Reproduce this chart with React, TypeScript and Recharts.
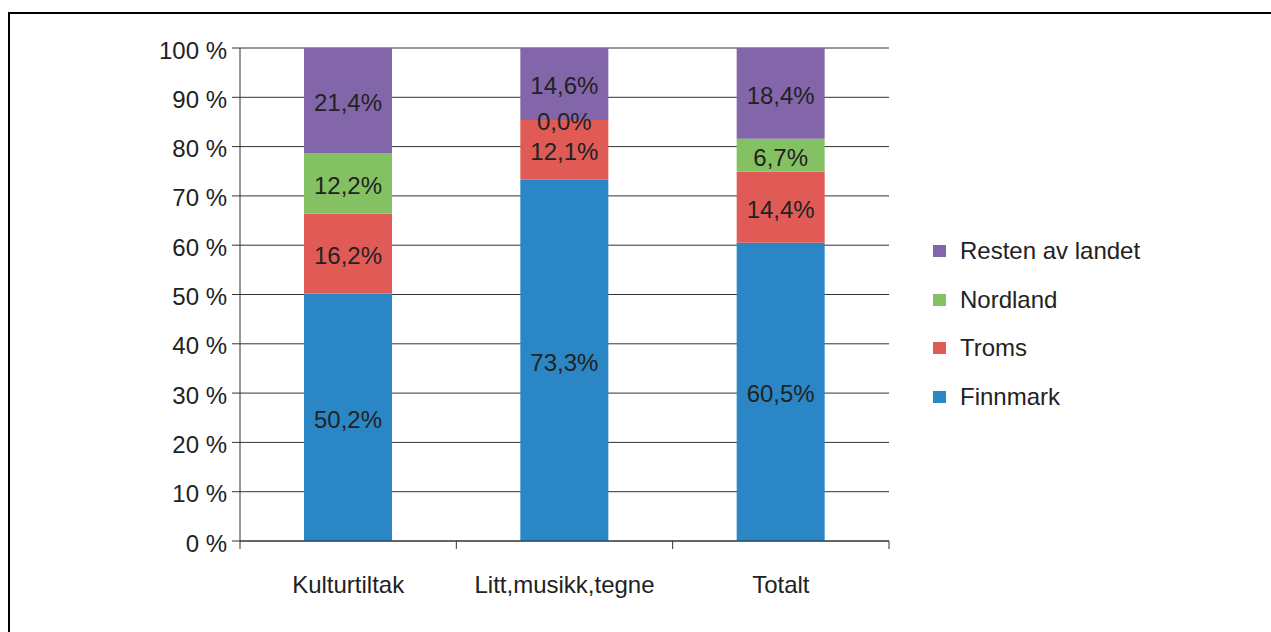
import React from 'react';
import { BarChart, Bar, XAxis, YAxis, CartesianGrid, LabelList, Legend } from 'recharts';

const categories = ['Kulturtiltak', 'Litt,musikk,tegne', 'Totalt'];
const finnmark = [50.2, 73.3, 60.5];
const troms = [16.2, 12.1, 14.4];
const nordland = [12.2, 0.0, 6.7];
const resten = [21.4, 14.6, 18.4];
const yTicks = [0, 10, 20, 30, 40, 50, 60, 70, 80, 90, 100];

const series = [
  { key: 'finnmark', name: 'Finnmark', color: '#2A86C4' },
  { key: 'troms', name: 'Troms', color: '#E05B56' },
  { key: 'nordland', name: 'Nordland', color: '#84C162' },
  { key: 'resten', name: 'Resten av landet', color: '#8266A9' },
];

const data = categories.map((c, i) => ({
  category: c,
  finnmark: finnmark[i],
  troms: troms[i],
  nordland: nordland[i],
  resten: resten[i],
}));

const FONT = '"Liberation Sans", Arial, Helvetica, sans-serif';
const TEXT = '#222222';
const AXIS = '#333333';
const TICK_MARGIN = 35;

const fmt = (v: any) => Number(v).toFixed(1).replace('.', ',') + '%';

const CenterLabel = (props: any) => {
  const { x, y, width, height, value } = props;
  if (value === undefined || value === null) return null;
  const cx = Number(x) + Number(width) / 2;
  const cy = Number(y) + Number(height) / 2;
  return (
    <text x={cx} y={cy} dy={2} textAnchor="middle" dominantBaseline="central" fill={TEXT} fontSize={24} fontFamily={FONT}>
      {fmt(value)}
    </text>
  );
};

// Label for a zero-height segment stacked on top of this bar (drawn at the bar's top edge)
const ZeroAboveLabel = (props: any) => {
  const { x, y, width, value } = props;
  if (value !== 0) return null;
  const cx = Number(x) + Number(width) / 2;
  return (
    <text x={cx} y={Number(y)} dy={2} textAnchor="middle" dominantBaseline="central" fill={TEXT} fontSize={24} fontFamily={FONT}>
      {fmt(value)}
    </text>
  );
};

const CategoryTick = (props: any) => {
  const { x, y, payload, index, visibleTicksCount } = props;
  const half = payload && payload.offset ? payload.offset : 0;
  const axisY = Number(y) - TICK_MARGIN;
  const last = index === (visibleTicksCount ?? categories.length) - 1;
  return (
    <g>
      <line x1={x - half} x2={x - half} y1={axisY} y2={axisY + 8} stroke={AXIS} />
      {last && <line x1={x + half} x2={x + half} y1={axisY} y2={axisY + 8} stroke={AXIS} />}
      <text x={x} y={y} dy="0.71em" textAnchor="middle" fill={TEXT} fontSize={24} fontFamily={FONT}>
        {payload.value}
      </text>
    </g>
  );
};

const YTick = (props: any) => {
  const { x, y, payload } = props;
  return (
    <text x={x} y={y} dy={2} textAnchor="end" dominantBaseline="central" fill={TEXT} fontSize={24} fontFamily={FONT}>
      {`${payload.value} %`}
    </text>
  );
};

const LegendContent = () => (
  <div style={{ fontFamily: FONT, fontSize: 24, color: TEXT }}>
    {[...series].reverse().map((s) => (
      <div key={s.key} style={{ display: 'flex', alignItems: 'center', height: 24, marginBottom: 24.5 }}>
        <div style={{ width: 13, height: 12, background: s.color, marginRight: 14 }} />
        <span style={{ whiteSpace: 'pre' }}>{s.name}</span>
      </div>
    ))}
  </div>
);

export default function App() {
  return (
    <div style={{ position: 'fixed', left: 0, top: 0, width: 1271, height: 632, overflow: 'hidden', background: '#fff' }}>
      <div
        style={{
          position: 'absolute',
          left: 8,
          top: 12,
          width: 1400,
          height: 800,
          borderTop: '2px solid #000',
          borderLeft: '2px solid #000',
        }}
      />
      <div style={{ position: 'absolute', left: 0, top: 0 }}>
        <BarChart
          width={1271}
          height={632}
          data={data}
          margin={{ top: 48, right: 382, bottom: 0, left: 0 }}
          barSize={88}
          style={{ fontFamily: FONT }}
        >
          <CartesianGrid vertical={false} stroke={AXIS} strokeWidth={1} />
          <XAxis
            dataKey="category"
            height={91}
            tickLine={false}
            tickSize={0}
            tickMargin={TICK_MARGIN}
            axisLine={{ stroke: AXIS }}
            tick={<CategoryTick />}
            interval={0}
          />
          <YAxis
            width={240}
            domain={[0, 100]}
            ticks={yTicks}
            tickSize={8}
            tickMargin={5}
            axisLine={{ stroke: AXIS }}
            tickLine={{ stroke: AXIS }}
            tick={<YTick />}
            interval={0}
          />
          <Legend
            layout="horizontal"
            verticalAlign="middle"
            align="center"
            content={<LegendContent />}
            wrapperStyle={{ left: 933, top: 239, width: 300, height: 200 }}
          />
          {series.map((s) => (
            <Bar key={s.key} dataKey={s.key} name={s.name} stackId="a" fill={s.color} isAnimationActive={false}>
              <LabelList dataKey={s.key} content={<CenterLabel />} />
              {s.key === 'troms' && <LabelList dataKey="nordland" content={<ZeroAboveLabel />} />}
            </Bar>
          ))}
        </BarChart>
      </div>
    </div>
  );
}
